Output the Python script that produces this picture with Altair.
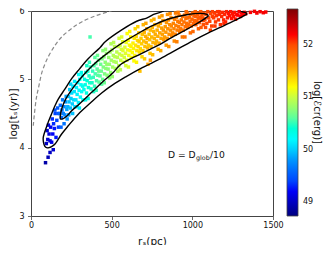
import altair as alt
import pandas as pd

# ---- scatter points (grouped along the band) ----
r_s_cols = [
    [95,104,112,100,118,122,108,90,106,118],
    [128,135,140,132,145,150,155,160,165,170,148,172,138],
    [178,182,188,192,196,200,205,210,214,218,222,186,205,224],
    [228,232,236,240,244,248,252,256,260,264,268,272,234,258,246,270],
    [278,282,286,290,294,298,302,306,310,314,318,322,284,300,312,296,320],
    [328,332,336,340,344,348,352,356,360,364,368,372,338,354,362,346,370,366],
    [378,382,386,390,394,398,402,406,410,414,418,422,388,404,412,396,420],
    [428,432,436,440,444,448,452,456,460,464,468,472,438,454,462,446,470],
    [478,482,486,490,494,498,502,506,510,514,518,522,488,504,512,496,520],
    [528,532,536,540,544,548,552,556,560,564,568,572,538,554,562,546,570],
    [578,582,586,590,594,598,602,606,610,614,618,622,588,604,612,596,620],
    [628,632,636,640,644,648,652,656,660,664,668,672,638,654,662,646,670,675],
    [678,682,686,690,694,698,702,706,710,714,718,722,688,704,712,696,720,725,740],
    [728,732,736,740,744,748,752,756,760,764,768,772,738,754,762,746,770],
    [778,782,786,790,794,798,802,806,810,814,818,822,788,804,812,796,820],
    [828,832,836,840,844,848,852,856,860,864,868,872,838,854,862,846,870],
    [878,882,886,890,894,898,902,906,910,914,918,922,888,904,912,896,920],
    [928,932,936,940,944,948,952,956,960,964,968,972,938,954,962,970],
    [978,982,986,990,994,998,1002,1006,1010,1014,1018,1022,988,1004,1020],
    [1028,1032,1036,1040,1044,1048,1052,1056,1060,1064,1068,1072,1038,1054,1070],
    [1078,1084,1090,1096,1102,1108,1114,1120,1126,1082,1112,1124],
    [1132,1138,1144,1150,1156,1162,1168,1174,1140,1166],
    [1182,1188,1194,1200,1206,1212,1218,1224,1196],
    [1232,1238,1244,1250,1256,1262,1268,1274],
    [1282,1290,1298,1306,1314,1322,1330],
    [1360,1385,1400,1420,1440,1455],
]
log_ts_cols = [
    [4.06,4.12,4.2,4.25,4.1,4.3,4.33,3.78,3.86,3.93],
    [4.08,4.2,4.35,4.42,4.28,4.5,4.15,4.4,4.58,4.3,4.55,4.5,3.97],
    [4.5,4.62,4.44,4.55,4.7,4.5,4.6,4.48,4.67,4.75,4.56,4.3,4.35,4.42],
    [4.6,4.75,4.67,4.85,4.58,4.72,4.8,4.64,4.9,4.7,4.82,4.6,4.48,4.5,4.93,4.97],
    [4.7,4.88,4.78,4.95,4.66,4.84,5.0,4.74,4.92,4.82,5.05,4.7,4.6,4.58,5.1,5.07,4.9],
    [4.85,5.0,4.92,5.1,4.8,4.98,5.12,4.88,5.05,4.95,5.18,4.86,4.7,4.72,5.25,5.2,5.02,5.62],
    [4.95,5.12,5.03,5.2,4.9,5.08,5.23,4.98,5.15,5.06,5.28,4.96,4.82,4.84,5.35,5.32,5.12],
    [5.05,5.22,5.12,5.3,5.0,5.18,5.33,5.08,5.25,5.16,5.38,5.06,4.93,4.95,5.44,5.42,5.22],
    [5.15,5.32,5.22,5.4,5.1,5.28,5.43,5.18,5.35,5.26,5.48,5.16,5.02,5.04,5.54,5.52,5.33],
    [5.25,5.4,5.32,5.48,5.2,5.37,5.5,5.28,5.44,5.35,5.55,5.25,5.12,5.14,5.62,5.6,5.42],
    [5.32,5.47,5.38,5.54,5.28,5.43,5.57,5.35,5.5,5.42,5.62,5.32,5.2,5.18,5.7,5.67,5.48],
    [5.39,5.53,5.45,5.6,5.35,5.5,5.63,5.42,5.57,5.48,5.68,5.4,5.27,5.25,5.77,5.74,5.55,5.12],
    [5.45,5.6,5.52,5.66,5.42,5.56,5.69,5.48,5.63,5.54,5.74,5.46,5.33,5.3,5.82,5.8,5.6,5.22,5.28],
    [5.5,5.66,5.58,5.72,5.48,5.62,5.76,5.54,5.7,5.6,5.8,5.52,5.38,5.36,5.88,5.86,5.66],
    [5.56,5.72,5.63,5.78,5.53,5.68,5.82,5.6,5.75,5.66,5.86,5.58,5.44,5.42,5.93,5.91,5.72],
    [5.62,5.77,5.69,5.83,5.6,5.74,5.87,5.66,5.8,5.72,5.9,5.64,5.5,5.48,5.96,5.95,5.78],
    [5.68,5.82,5.74,5.88,5.66,5.79,5.91,5.72,5.85,5.77,5.94,5.7,5.56,5.55,5.98,5.97,5.83],
    [5.74,5.87,5.8,5.92,5.72,5.84,5.94,5.77,5.89,5.82,5.97,5.76,5.62,5.62,5.99,5.9],
    [5.8,5.91,5.85,5.95,5.78,5.88,5.97,5.82,5.93,5.86,5.99,5.8,5.68,5.7,5.92],
    [5.85,5.94,5.89,5.97,5.83,5.91,5.99,5.87,5.95,5.9,5.8,5.97,5.74,5.76,5.86],
    [5.88,5.95,5.82,5.99,5.9,5.85,5.96,5.78,5.92,5.76,5.72,5.99],
    [5.9,5.97,5.84,5.93,5.99,5.87,5.95,5.8,5.78,5.99],
    [5.92,5.98,5.87,5.95,5.84,5.99,5.9,5.96,5.82],
    [5.93,5.99,5.89,5.96,5.92,5.98,5.88,5.95],
    [5.94,5.99,5.92,5.97,5.95,5.98,5.96],
    [5.98,5.995,5.97,5.99,5.975,5.985],
]
log_ecr_cols = [
    [49.0,49.05,49.1,49.05,49.1,49.15,49.1,48.9,48.95,49.0],
    [49.15,49.2,49.3,49.3,49.25,49.4,49.25,49.4,49.5,49.35,49.45,49.5,49.05],
    [49.55,49.6,49.6,49.65,49.7,49.7,49.75,49.75,49.8,49.85,49.85,49.55,49.65,49.8],
    [49.9,49.95,49.95,50.0,49.95,50.0,50.05,50.0,50.1,50.05,50.1,50.05,49.85,49.95,50.05,50.15],
    [50.1,50.15,50.15,50.2,50.15,50.2,50.25,50.2,50.25,50.25,50.3,50.25,50.1,50.15,50.3,50.25,50.3],
    [50.3,50.35,50.35,50.4,50.35,50.4,50.45,50.4,50.45,50.45,50.5,50.45,50.3,50.35,50.5,50.45,50.5,50.55],
    [50.45,50.5,50.5,50.55,50.5,50.55,50.6,50.55,50.6,50.6,50.65,50.6,50.45,50.5,50.65,50.6,50.65],
    [50.6,50.65,50.65,50.7,50.65,50.7,50.75,50.7,50.75,50.75,50.8,50.75,50.6,50.65,50.8,50.75,50.8],
    [50.75,50.8,50.8,50.85,50.8,50.85,50.9,50.85,50.9,50.9,50.95,50.9,50.75,50.8,50.95,50.9,50.95],
    [50.9,50.95,50.95,51.0,50.95,51.0,51.05,51.0,51.05,51.05,51.1,51.05,50.9,50.95,51.1,51.05,51.1],
    [51.05,51.1,51.1,51.15,51.1,51.15,51.2,51.15,51.2,51.2,51.25,51.2,51.05,51.1,51.25,51.2,51.25],
    [51.2,51.25,51.25,51.3,51.25,51.3,51.35,51.3,51.35,51.35,51.4,51.35,51.2,51.25,51.4,51.35,51.4,51.45],
    [51.35,51.4,51.4,51.45,51.4,51.45,51.5,51.45,51.5,51.5,51.55,51.5,51.35,51.4,51.55,51.5,51.55,51.55,51.6],
    [51.42,51.45,51.45,51.47,51.47,51.48,51.49,51.49,51.5,51.5,51.52,51.52,51.42,51.46,51.52,51.48,51.52],
    [51.5,51.52,51.52,51.54,51.54,51.55,51.56,51.56,51.57,51.57,51.6,51.6,51.5,51.52,51.6,51.56,51.6],
    [51.58,51.6,51.6,51.62,51.62,51.63,51.64,51.64,51.65,51.65,51.67,51.67,51.58,51.62,51.67,51.63,51.67],
    [51.66,51.68,51.68,51.7,51.7,51.71,51.72,51.72,51.73,51.73,51.75,51.75,51.66,51.7,51.75,51.71,51.75],
    [51.74,51.76,51.76,51.78,51.78,51.79,51.8,51.8,51.81,51.81,51.83,51.83,51.74,51.78,51.83,51.83],
    [51.82,51.84,51.84,51.86,51.86,51.87,51.88,51.88,51.89,51.89,51.9,51.92,51.82,51.86,51.92],
    [51.9,51.92,51.92,51.94,51.94,51.95,51.96,51.96,51.97,51.97,51.98,52.0,51.9,51.94,52.0],
    [52.0,52.0,52.02,52.02,52.03,52.04,52.04,52.05,52.06,52.0,52.04,52.06],
    [52.07,52.08,52.08,52.1,52.1,52.11,52.12,52.12,52.08,52.12],
    [52.13,52.14,52.14,52.15,52.16,52.16,52.17,52.18,52.14],
    [52.18,52.18,52.18,52.18,52.18,52.18,52.18,52.18],
    [52.2,52.2,52.2,52.2,52.2,52.2,52.2],
    [52.22,52.22,52.22,52.22,52.22,52.22],
]

# ---- contour lines (outer and inner density levels) ----
outer_r = [830, 820, 760, 720, 655, 560, 460, 430, 350, 300, 252, 211, 169, 150, 125, 100,
           76, 78, 86, 97, 112, 130, 149, 190, 231, 293, 366, 438, 520, 590, 690, 800, 900,
           1000, 1100, 1200, 1280, 1325, 1338, 1330, 1305, 1280]
outer_t = [6.05, 6.0, 5.95, 5.90, 5.85, 5.72, 5.55, 5.47, 5.29, 5.15, 5.01, 4.86, 4.71, 4.62,
           4.48, 4.33, 4.15, 4.07, 4.02, 4.0, 4.0, 4.02, 4.055, 4.2, 4.32, 4.49, 4.65, 4.80,
           4.94, 5.04, 5.17, 5.30, 5.43, 5.56, 5.68, 5.79, 5.88, 5.935, 5.955, 5.975, 5.995, 6.05]
inner_r = [1100, 1090, 1047, 965, 862, 756, 655, 550, 450, 380, 320, 265, 215, 192, 182, 183,
           200, 225, 252, 300, 376, 438, 510, 552, 634, 738, 800, 862, 965, 1030, 1066, 1090, 1100]
inner_t = [5.93, 5.95, 5.965, 5.945, 5.89, 5.79, 5.66, 5.51, 5.34, 5.2, 5.05, 4.89, 4.71, 4.58,
           4.47, 4.42, 4.425, 4.47, 4.54, 4.64, 4.81, 4.95, 5.10, 5.21, 5.32, 5.44, 5.51, 5.60,
           5.73, 5.82, 5.87, 5.91, 5.93]
dash_r = [14, 25, 35, 45, 70, 107, 150, 190, 250, 314, 400, 479, 520]
dash_t = [4.32, 4.58, 4.75, 4.86, 5.12, 5.33, 5.5, 5.62, 5.74, 5.84, 5.93, 5.99, 6.02]

# ---- annotation, ticks, colour bar ----
note_r = [849]
note_t = [3.845]
x_ticks = [0, 500, 1000, 1500]
y_ticks = [3, 4, 5, 6]
cb_ticks = [49, 50, 51, 52]
cb_title = "log[ℰcr(erg)]"
jet_stops = [48.73, 49.225, 49.72, 50.215, 50.71, 51.205, 51.7, 52.195, 52.69]
jet_colors = ["#00007f", "#0000ff", "#007fff", "#00ffff", "#7fff7f",
              "#ffff00", "#ff7f00", "#ff0000", "#7f0000"]

rows = []
for cx, cy, ce in zip(r_s_cols, log_ts_cols, log_ecr_cols):
    assert len(cx) == len(cy) == len(ce), (len(cx), len(cy), len(ce), cx[0])
    for a, b, c in zip(cx, cy, ce):
        rows.append({"r": a, "t": b, "e": c})
pts_df = pd.DataFrame(rows)

assert len(outer_r) == len(outer_t) and len(inner_r) == len(inner_t) and len(dash_r) == len(dash_t)
cont_df = pd.DataFrame(
    [{"r": a, "t": b, "i": k, "c": "outer"} for k, (a, b) in enumerate(zip(outer_r, outer_t))]
    + [{"r": a, "t": b, "i": k, "c": "inner"} for k, (a, b) in enumerate(zip(inner_r, inner_t))]
)
dash_df = pd.DataFrame({"r": dash_r, "t": dash_t, "i": list(range(len(dash_r)))})
note_df = pd.DataFrame({"r": note_r, "t": note_t})
cbt_df = pd.DataFrame({"label": [cb_title]})

FONT = "DejaVu Sans"
xs = alt.Scale(domain=[0, 1500], nice=False, zero=False)
ys = alt.Scale(domain=[3, 6], nice=False, zero=False)

xax = alt.Axis(values=x_ticks, format="d", title="rₛ(pc)", labelFlush=False, labelPadding=2,
               titleY=25, titleBaseline="middle")
yax = alt.Axis(values=y_ticks, format="d", title="log[tₛ(yr)]", labelPadding=3.5,
               titleX=-18, titleBaseline="middle")

pts = alt.Chart(pts_df).mark_square(size=12, opacity=1, strokeWidth=0).encode(
    x=alt.X("r:Q", scale=xs, axis=xax),
    y=alt.Y("t:Q", scale=ys, axis=yax),
    color=alt.Color(
        "e:Q",
        scale=alt.Scale(domain=jet_stops, range=jet_colors),
        legend=alt.Legend(
            orient="none", legendX=256, legendY=-2, direction="vertical",
            gradientLength=207, gradientThickness=11, values=cb_ticks, format="d",
            title=None,
            labelFontSize=8, labelFont=FONT, labelColor="#111", labelOffset=5,
            labelOverlap=False, padding=0,
            gradientStrokeColor="#444", gradientStrokeWidth=0.8,
        ),
    ),
)

dash = alt.Chart(dash_df).mark_line(
    color="#8a8a8a", strokeDash=[4, 2.5], strokeWidth=1.2, clip=True, interpolate="catmull-rom"
).encode(x=alt.X("r:Q", scale=xs), y=alt.Y("t:Q", scale=ys), order="i:Q")

cont = alt.Chart(cont_df).mark_line(
    color="black", strokeWidth=1.4, clip=True, interpolate="catmull-rom"
).encode(x=alt.X("r:Q", scale=xs), y=alt.Y("t:Q", scale=ys), detail="c:N", order="i:Q")

base_txt = alt.Chart(note_df).encode(x=alt.X("r:Q", scale=xs), y=alt.Y("t:Q", scale=ys))
t1 = base_txt.mark_text(text="D = D", align="left", baseline="alphabetic",
                        fontSize=9.2, font=FONT, color="#111")
t2 = base_txt.mark_text(text="glob", align="left", baseline="alphabetic",
                        fontSize=6.4, font=FONT, color="#111", dx=28, dy=2)
t3 = base_txt.mark_text(text="/10", align="left", baseline="alphabetic",
                        fontSize=9.2, font=FONT, color="#111", dx=42)

# colour-bar title, rotated, to the right of the colour bar
cbt = alt.Chart(cbt_df).mark_text(
    angle=90, align="center", baseline="middle", fontSize=10, font=FONT, color="#111"
).encode(text="label:N", x=alt.value(286), y=alt.value(101.5))

chart = alt.layer(pts, dash, cont, t1, t2, t3, cbt).properties(
    width=242, height=205,
    padding={"left": 23, "top": 3, "right": 51, "bottom": 29},
    autosize=alt.AutoSizeParams(type="none"),
).configure_view(
    stroke="#444", strokeWidth=1
).configure_axis(
    grid=False, domain=False, ticks=True, tickColor="#444", tickSize=3.5, tickWidth=0.8,
    labelFont=FONT, labelFontSize=8, labelColor="#111",
    titleFont=FONT, titleFontSize=10.5, titleFontWeight="normal", titleColor="#111",
)

chart.save("out.html", embed_options={"renderer": "svg", "actions": False})
